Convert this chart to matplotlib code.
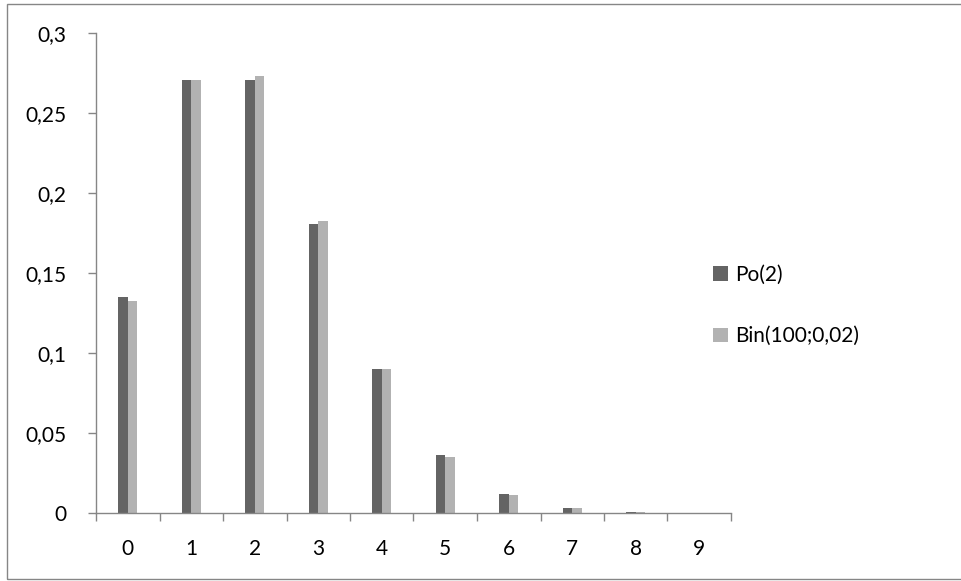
import matplotlib
matplotlib.use("Agg")
import matplotlib.pyplot as plt
from matplotlib.patches import Rectangle
from matplotlib.ticker import FixedLocator, NullFormatter
import numpy as np

# Probabilities P(X = k) for the two distributions
k_values = [0, 1, 2, 3, 4, 5, 6, 7, 8, 9]
poisson = [0.1353, 0.2707, 0.2707, 0.1804, 0.0902, 0.0361, 0.0120, 0.0034, 0.0009, 0.0002]
binomial = [0.1326, 0.2707, 0.2734, 0.1823, 0.0902, 0.0353, 0.0114, 0.0031, 0.0007, 0.0002]
series_names = ["Po(2)", "Bin(100;0,02)"]
y_ticks = [0, 0.05, 0.1, 0.15, 0.2, 0.25, 0.3]

dark = "#646464"
light = "#b2b2b2"
axis_gray = "#868686"
fs = 15

plt.rcParams["font.family"] = ["Lato", "DejaVu Sans"]

W, H = 962, 581
fig = plt.figure(figsize=(W / 100, H / 100), dpi=100)
fig.patch.set_facecolor("white")

# chart-area border (runs past the right edge)
fig.add_artist(Rectangle((7 / W, 1 - 579 / H), (980 - 7) / W, (579 - 4) / H,
                         transform=fig.transFigure, fill=False,
                         edgecolor=axis_gray, linewidth=1.0))

ax = fig.add_axes([96 / W, 1 - 513 / H, (731 - 96) / W, (513 - 33) / H])

x = np.arange(len(k_values))
bw = 0.15
ax.bar(x - bw / 2, poisson, width=bw, color=dark, label=series_names[0])
ax.bar(x + bw / 2, binomial, width=bw, color=light, label=series_names[1])

ax.set_xlim(-0.5, len(k_values) - 0.5)
ax.set_ylim(0, 0.3)

# category ticks sit on the boundaries between groups
ax.xaxis.set_major_locator(FixedLocator(np.arange(-0.5, len(k_values), 1.0)))
ax.xaxis.set_major_formatter(NullFormatter())
ax.set_xticks(x, minor=True)
ax.set_xticklabels([str(k) for k in k_values], minor=True)
ax.tick_params(axis="x", which="minor", length=0, pad=19, labelsize=fs)
ax.tick_params(axis="x", which="major", length=6, width=1, color=axis_gray, direction="out")

ax.set_yticks(y_ticks)
ax.set_yticklabels([("%g" % v).replace(".", ",") for v in y_ticks])
ax.tick_params(axis="y", length=6, width=1, color=axis_gray, direction="out",
               pad=15, labelsize=fs)

for side in ("top", "right"):
    ax.spines[side].set_visible(False)
for side in ("left", "bottom"):
    ax.spines[side].set_color(axis_gray)
    ax.spines[side].set_linewidth(1.0)

ax.legend(loc="center left", bbox_to_anchor=(713 / W, 1 - 305.5 / H),
          bbox_transform=fig.transFigure, frameon=False, fontsize=fs,
          handlelength=0.72, handleheight=0.72, handletextpad=0.35,
          labelspacing=2.0, borderpad=0, borderaxespad=0)

fig.savefig("out.png", dpi=100)
